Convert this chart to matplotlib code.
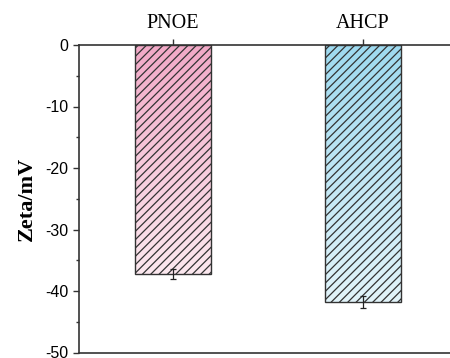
import numpy as np
import matplotlib
matplotlib.use("Agg")
import matplotlib.pyplot as plt
from matplotlib.colors import LinearSegmentedColormap

categories = ["PNOE", "AHCP"]
values = [-37.3, -41.8]
errors = [0.8, 1.0]
top_colors = ["#f2a9c7", "#9edaf0"]
bottom_colors = ["#fce8ef", "#e2f4fa"]
yticks = [0, -10, -20, -30, -40, -50]

plt.rcParams["hatch.linewidth"] = 0.9
plt.rcParams["hatch.color"] = "#333333"
plt.rcParams["axes.unicode_minus"] = False

fig = plt.figure(figsize=(4.5, 3.58), dpi=100)
ax = fig.add_axes([79/450, 1-352.5/358, 1-79/450, (352.5-45)/358])

x = np.arange(len(categories))
bars = ax.bar(x, values, width=0.4, facecolor="none", edgecolor="#333333",
              linewidth=1.0, hatch="////", zorder=3)
for b, tc, bc in zip(bars, top_colors, bottom_colors):
    cmap = LinearSegmentedColormap.from_list("g", [tc, bc])
    grad = np.linspace(0, 1, 256).reshape(-1, 1)
    bx, by = b.get_x(), b.get_y()
    w, h = b.get_width(), b.get_height()
    im = ax.imshow(grad, extent=[bx, bx + w, by + h, by], origin="upper",
                   aspect="auto", cmap=cmap, zorder=2)
    im.set_clip_path(b)

ax.errorbar(x, values, yerr=errors, fmt="none", ecolor="#222222",
            elinewidth=0.9, capsize=2.5, capthick=0.9, zorder=4)

ax.set_xlim(-0.495, 1.458)
ax.set_ylim(-50, 0)
ax.set_yticks(yticks)
ax.set_yticks(np.arange(-45, 0, 10), minor=True)
ax.yaxis.set_tick_params(which="major", direction="out", length=4.5, width=1,
                         labelsize=11.5, colors="#333333", pad=3)
ax.yaxis.set_tick_params(which="minor", direction="out", length=2.5, width=1,
                         colors="#333333")
for lab in ax.get_yticklabels():
    lab.set_fontfamily("Liberation Sans")
    lab.set_color("black")

ax.xaxis.tick_top()
ax.set_xticks(x)
ax.set_xticklabels(categories, fontfamily="Liberation Serif", fontsize=14.5)
ax.xaxis.set_tick_params(direction="out", length=4.5, width=1, colors="#333333",
                         pad=4)
for lab in ax.get_xticklabels():
    lab.set_color("black")

for s in ["left", "top", "bottom"]:
    ax.spines[s].set_color("#333333")
    ax.spines[s].set_linewidth(1.2)
ax.spines["right"].set_visible(False)

ax.set_ylabel("Zeta/mV", fontfamily="Liberation Serif", fontweight="bold",
              fontsize=16, labelpad=6)

fig.savefig("out.png", dpi=100)
